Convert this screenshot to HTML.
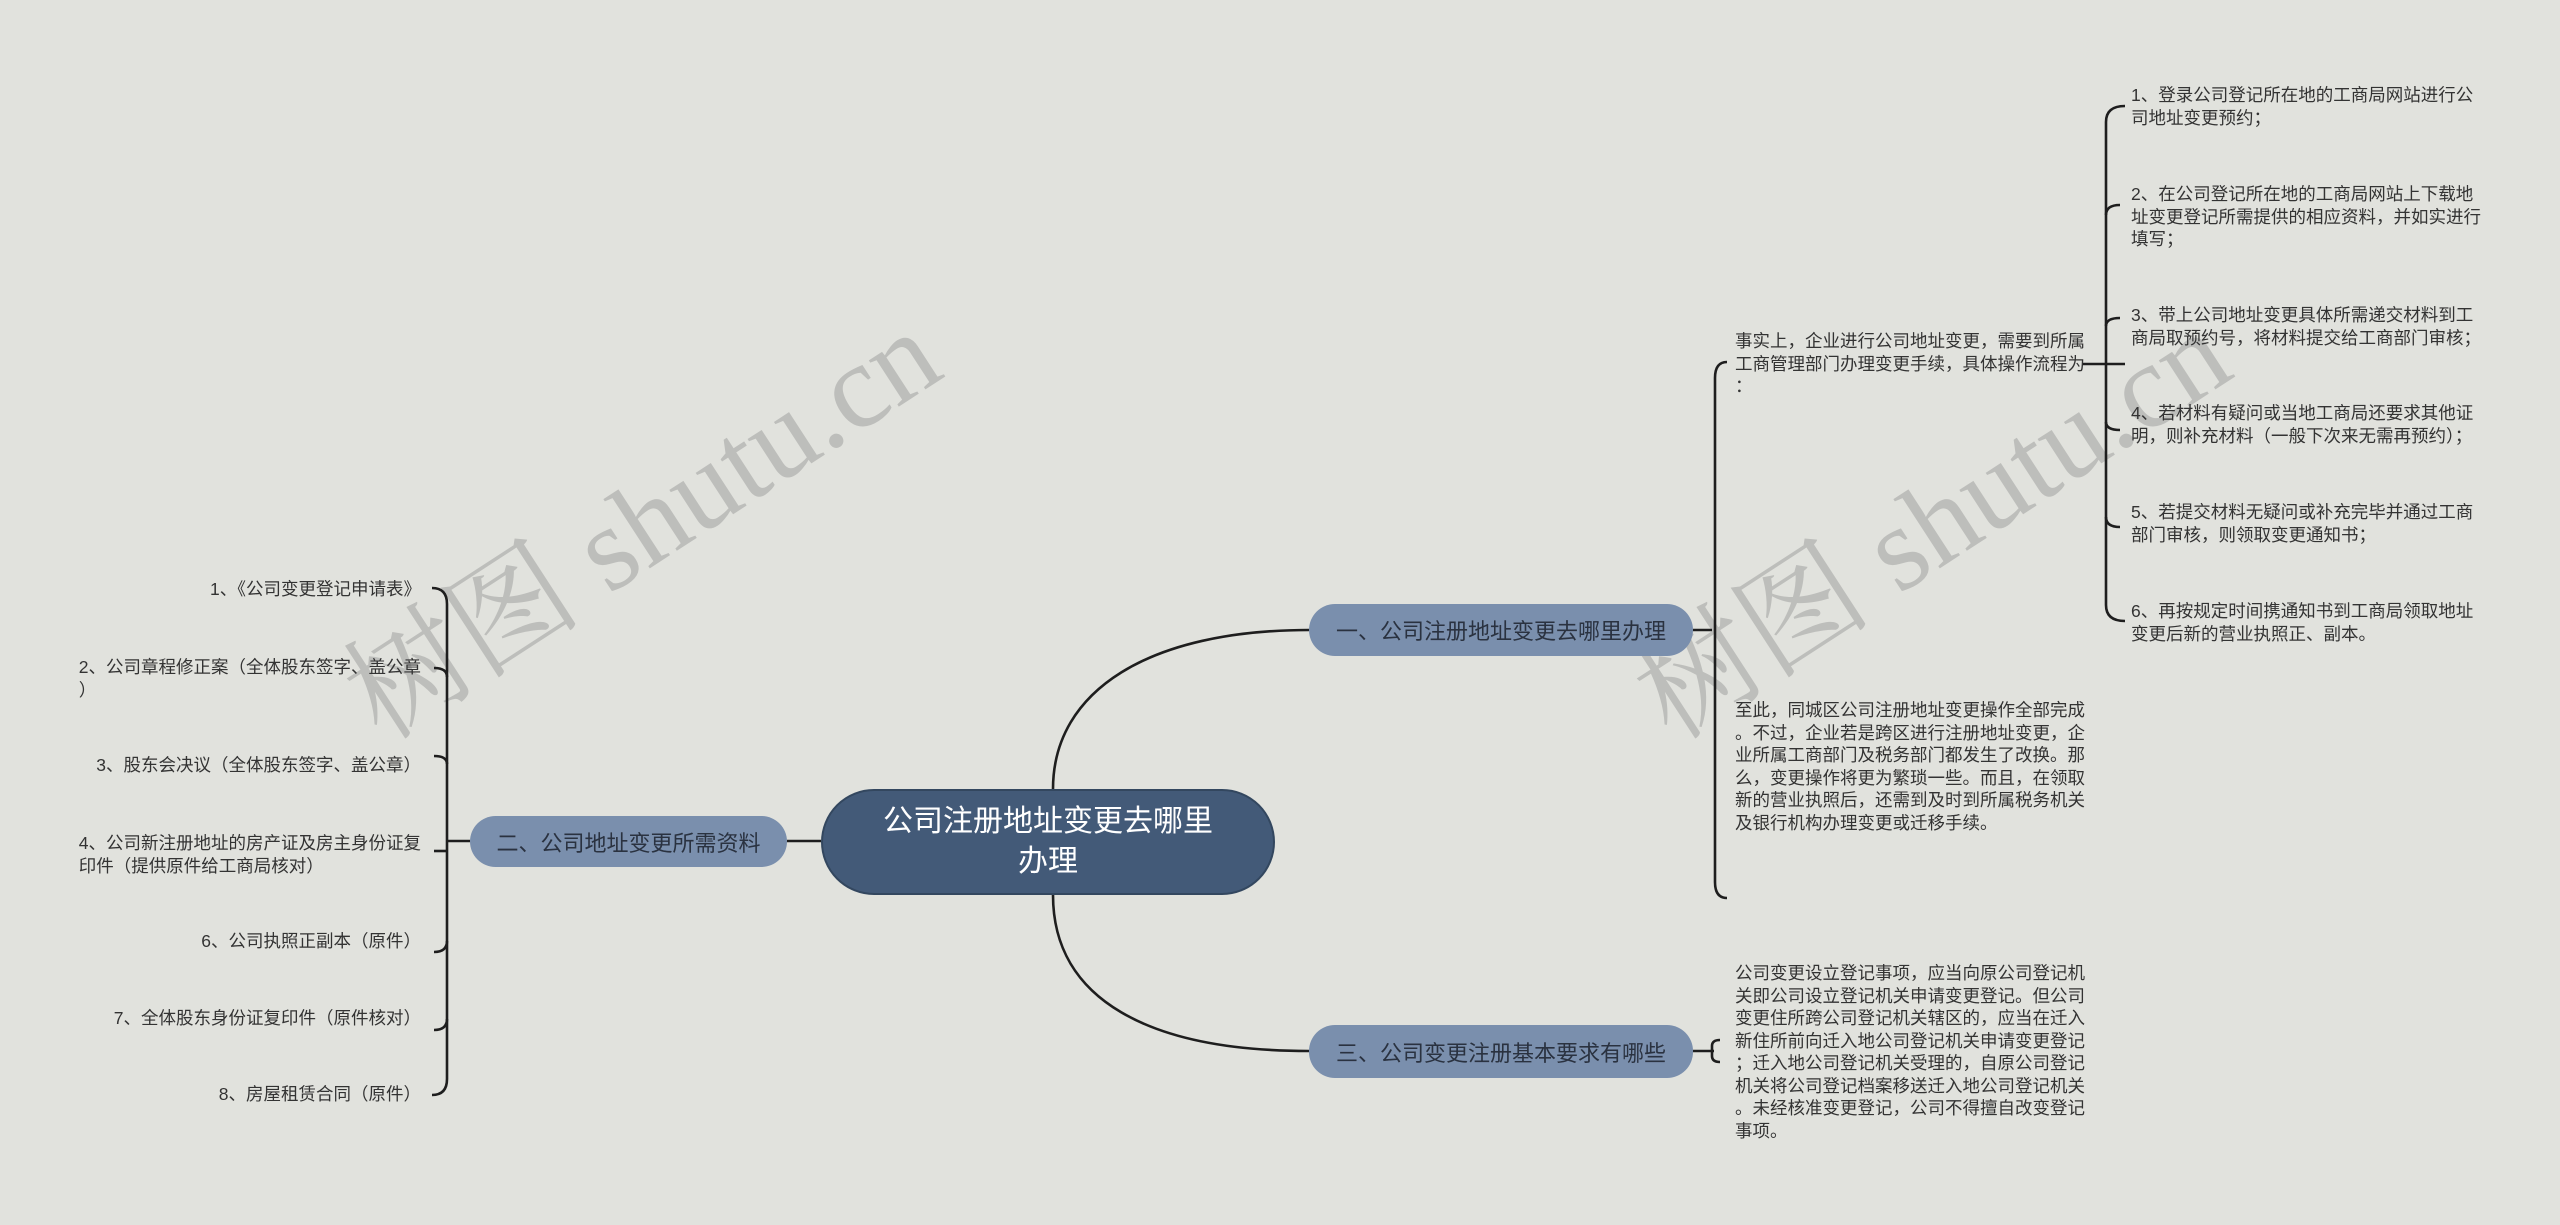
<!DOCTYPE html>
<html><head><meta charset="utf-8"><style>
body{margin:0;width:2560px;height:1225px;background:#e1e2dd;position:relative;overflow:hidden;font-family:"Liberation Sans","Noto Sans CJK SC",sans-serif;}
.t{position:absolute;font-size:17.5px;line-height:22.5px;color:#333;white-space:nowrap;}
.node{position:absolute;display:flex;align-items:center;justify-content:center;text-align:center;}
.wm{position:absolute;font-family:"Liberation Serif","Noto Serif CJK SC",serif;font-size:120px;color:rgba(140,140,140,0.42);transform:rotate(-33deg);white-space:nowrap;}
</style></head><body>
<div class="wm" style="left:300px;top:430px;">树图 shutu.cn</div>
<div class="wm" style="left:1590px;top:430px;">树图 shutu.cn</div>
<svg width="2560" height="1225" style="position:absolute;left:0;top:0" fill="none" stroke="#1e1e1e" stroke-width="2.6">
<path d="M1053 789 C1053 690 1150 630 1309 630"/>
<path d="M1053 895 C1053 1000 1150 1051 1309 1051"/>
<path d="M787 841 L821 841"/>
<!-- bracket A -->
<path d="M1693 630 L1712 630"/>
<path d="M1727 362 Q1715 362 1715 378 L1715 882 Q1715 898 1727 898"/>
<!-- bracket B -->
<path d="M2082 364 L2125 364"/>
<path d="M2125 106 Q2106 106 2106 122 L2106 605 Q2106 621 2125 621"/>
<path d="M2106 215 Q2106 205 2120 205"/><path d="M2106 326 Q2106 318 2120 318"/>
<path d="M2106 422 Q2106 430 2120 430"/><path d="M2106 517 Q2106 527 2120 527"/>
<!-- branch3 -->
<path d="M1693 1051 L1714 1051"/>
<path d="M1720 1040 Q1712 1040 1712 1046 L1712 1056 Q1712 1062 1720 1062"/>
<!-- left bracket -->
<path d="M447 841 L470 841"/>
<path d="M432 588 Q447 588 447 604 L447 1079 Q447 1095 432 1095"/>
<path d="M447 677 Q447 668 434 668"/><path d="M447 764 Q447 756 434 756"/>
<path d="M447 851 Q447 851 434 851"/><path d="M447 941 Q447 952 434 952"/>
<path d="M447 1019 Q447 1030 434 1030"/>
</svg>
<div class="node" style="left:821px;top:789px;width:454px;height:106px;background:#435a78;border-radius:53px;border:2px solid #33475f;box-sizing:border-box;color:#fff;font-size:30px;line-height:40px;">公司注册地址变更去哪里<br>办理</div>
<div class="node" style="left:1309px;top:604px;width:384px;height:52px;background:#7a8fad;border-radius:26px;color:#2a3240;font-size:22px;">一、公司注册地址变更去哪里办理</div>
<div class="node" style="left:470px;top:816px;width:317px;height:51px;background:#7a8fad;border-radius:26px;color:#2a3240;font-size:22px;">二、公司地址变更所需资料</div>
<div class="node" style="left:1309px;top:1025px;width:384px;height:53px;background:#7a8fad;border-radius:26px;color:#2a3240;font-size:22px;">三、公司变更注册基本要求有哪些</div>

<div class="t" style="left:2131px;top:84px;">1、登录公司登记所在地的工商局网站进行公<br>司地址变更预约；</div>
<div class="t" style="left:2131px;top:183px;">2、在公司登记所在地的工商局网站上下载地<br>址变更登记所需提供的相应资料，并如实进行<br>填写；</div>
<div class="t" style="left:2131px;top:304px;">3、带上公司地址变更具体所需递交材料到工<br>商局取预约号，将材料提交给工商部门审核；</div>
<div class="t" style="left:2131px;top:402px;">4、若材料有疑问或当地工商局还要求其他证<br>明，则补充材料（一般下次来无需再预约）；</div>
<div class="t" style="left:2131px;top:501px;">5、若提交材料无疑问或补充完毕并通过工商<br>部门审核，则领取变更通知书；</div>
<div class="t" style="left:2131px;top:600px;">6、再按规定时间携通知书到工商局领取地址<br>变更后新的营业执照正、副本。</div>

<div class="t" style="left:1735px;top:330px;">事实上，企业进行公司地址变更，需要到所属<br>工商管理部门办理变更手续，具体操作流程为<br>：</div>
<div class="t" style="left:1735px;top:699px;">至此，同城区公司注册地址变更操作全部完成<br>。不过，企业若是跨区进行注册地址变更，企<br>业所属工商部门及税务部门都发生了改换。那<br>么，变更操作将更为繁琐一些。而且，在领取<br>新的营业执照后，还需到及时到所属税务机关<br>及银行机构办理变更或迁移手续。</div>
<div class="t" style="left:1735px;top:962px;">公司变更设立登记事项，应当向原公司登记机<br>关即公司设立登记机关申请变更登记。但公司<br>变更住所跨公司登记机关辖区的，应当在迁入<br>新住所前向迁入地公司登记机关申请变更登记<br>；迁入地公司登记机关受理的，自原公司登记<br>机关将公司登记档案移送迁入地公司登记机关<br>。未经核准变更登记，公司不得擅自改变登记<br>事项。</div>

<div class="t" style="right:2139px;top:578px;">1、《公司变更登记申请表》</div>
<div class="t" style="right:2139px;top:656px;">2、公司章程修正案（全体股东签字、盖公章<br>）</div>
<div class="t" style="right:2139px;top:754px;">3、股东会决议（全体股东签字、盖公章）</div>
<div class="t" style="right:2139px;top:832px;">4、公司新注册地址的房产证及房主身份证复<br>印件（提供原件给工商局核对）</div>
<div class="t" style="right:2139px;top:930px;">6、公司执照正副本（原件）</div>
<div class="t" style="right:2139px;top:1007px;">7、全体股东身份证复印件（原件核对）</div>
<div class="t" style="right:2139px;top:1083px;">8、房屋租赁合同（原件）</div>
</body></html>
